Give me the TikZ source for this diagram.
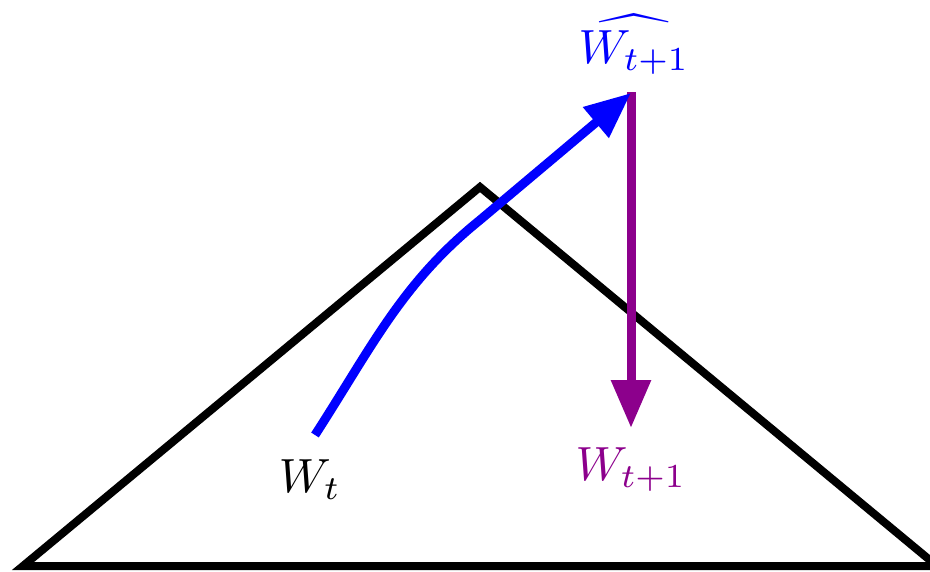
\documentclass[tikz,border=0pt]{standalone}
\usetikzlibrary{arrows.meta}
\definecolor{mypurple}{RGB}{140,0,140}
\begin{document}
\begin{tikzpicture}[x=1pt,y=-1pt,
  mountain/.style={draw=black,line width=8pt,line join=miter},
  bluearrow/.style={draw=blue,line width=9pt,-{Triangle[length=46pt,width=38pt]}},
  purplearrow/.style={draw=mypurple,line width=9pt,-{Triangle[length=48pt,width=38pt]}},
  lbl/.style={inner sep=0pt,anchor=base,scale=4.8}]
\useasboundingbox (0,0) rectangle (930,571);
\coordinate (L) at (23,566);
\coordinate (A) at (480,187);
\coordinate (R) at (937,566);
\draw[mountain] (L) -- (A) -- (R) -- cycle;
\coordinate (start) at (315,435);
\coordinate (bend) at (480,220);
\coordinate (hat) at (631,93);
\coordinate (down) at (631,428);
\draw[purplearrow] (631,92) -- (down);
\draw[bluearrow] (start) .. controls (373,345) and (402,283) .. (bend) -- (hat);
\node[lbl] (wt) at (310,492) {$W_t$};
\node[lbl,text=mypurple] (wnext) at (631,480) {$W_{t+1}$};
\node[lbl,text=blue] (whatnext) at (634,63) {$\widehat{W_{t+1}}$};
\end{tikzpicture}
\end{document}
